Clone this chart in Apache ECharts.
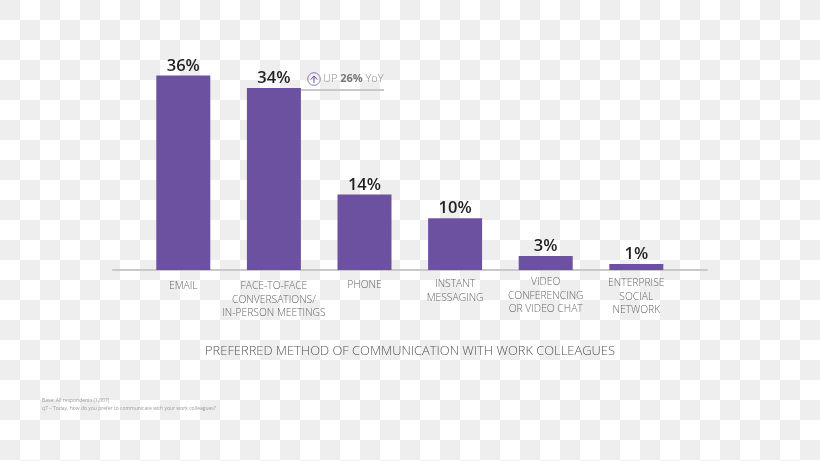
<!DOCTYPE html>
<html>
<head>
<meta charset="utf-8">
<title>Preferred method of communication</title>
<style>
html,body{margin:0;padding:0;width:820px;height:461px;overflow:hidden;}
body{background:repeating-conic-gradient(#fff 0 25%,#eeeeee 0 50%) 0 0/40px 40px;}
#chart{width:820px;height:461px;}
</style>
<script src="https://cdn.jsdelivr.net/npm/echarts@6/dist/echarts.min.js"></script>
</head>
<body>
<div id="chart"></div>
<script>
var categories = [
	'EMAIL',
	'FACE-TO-FACE\nCONVERSATIONS/\nIN-PERSON MEETINGS',
	'PHONE',
	'INSTANT\nMESSAGING',
	'VIDEO\nCONFERENCING\nOR VIDEO CHAT',
	'ENTERPRISE\nSOCIAL\nNETWORK'
];
// bar heights, they differ a little from the printed labels
var barValues = [36, 33.7, 14, 9.6, 2.6, 1.1];
var barLabels = ['36%', '34%', '14%', '10%', '3%', '1%'];
var chartTitle = 'PREFERRED METHOD OF COMMUNICATION WITH WORK COLLEAGUES';
var footnotes = [
	'Base: All respondents (1,007)',
	'q7 \u2013 Today, how do you prefer to communicate with your work colleagues?'
];

var font = '"Open Sans"';
var purple = '#6c51a0';
var lineGray = '#c9c9c9';

// the labels do not sit on one line in the original, each one gets its own offset
var labelStyle = ['d4', 'd4', 'd3', 'd2', 'd0', 'd1'];

function axisLabelText(value, index){
	var lines = value.split('\n');
	for(var i=0;i<lines.length;i++){
		lines[i] = '{' + labelStyle[index] + '|' + lines[i] + '}';
	}
	return lines.join('\n');
}

function lineStyleOf(top){
	return {padding:[top*2,0,0,0], fontFamily:font, fontWeight:300, fontSize:10.3, color:'#666666', lineHeight:13.8};
}

var myChart = echarts.init(document.getElementById('chart'), null, {renderer:'canvas'});

var option = {
	backgroundColor:'transparent',
	animation:false,
	title:{
		text:chartTitle,
		left:'center',
		top:340,
		textStyle:{fontFamily:font, fontWeight:300, fontSize:12.9, color:'#555555'}
	},
	grid:[
		{left:138, width:543.6, top:54, bottom:191},
		{left:113, width:594, top:54, bottom:191}
	],
	xAxis:[
		{
			type:'category',
			gridIndex:0,
			data:categories,
			axisLine:{show:false},
			axisTick:{show:false},
			axisLabel:{
				interval:0,
				margin:5,
				formatter:axisLabelText,
				rich:{
					d0:lineStyleOf(0),
					d1:lineStyleOf(1),
					d2:lineStyleOf(2),
					d3:lineStyleOf(3),
					d4:lineStyleOf(4)
				}
			}
		},
		{
			type:'value',
			gridIndex:1,
			min:0,
			max:1,
			axisLine:{show:true, onZero:false, lineStyle:{color:lineGray, width:2}},
			axisTick:{show:false},
			axisLabel:{show:false},
			splitLine:{show:false}
		}
	],
	yAxis:[
		{type:'value', gridIndex:0, min:0, max:40, show:false},
		{type:'value', gridIndex:1, min:0, max:40, show:false}
	],
	series:[{
		type:'bar',
		xAxisIndex:0,
		yAxisIndex:0,
		data:barValues,
		barWidth:54,
		itemStyle:{color:purple},
		z:5,
		label:{
			show:true,
			position:'top',
			distance:1,
			formatter:function(p){ return barLabels[p.dataIndex]; },
			fontFamily:font,
			fontWeight:600,
			fontSize:16.5,
			color:'#1f1f1f'
		}
	}],
	graphic:[
		// YoY note next to the second bar
		{type:'line', shape:{x1:301, y1:90, x2:384, y2:90}, style:{stroke:lineGray, lineWidth:2}},
		{type:'circle', shape:{cx:314, cy:79, r:6.3}, style:{fill:'none', stroke:'#8a78b4', lineWidth:1}},
		{type:'polyline', shape:{points:[[310.8,79.5],[314,76],[317.2,79.5]]}, style:{fill:'none', stroke:'#6c51a0', lineWidth:1}},
		{type:'line', shape:{x1:314, y1:76, x2:314, y2:83}, style:{stroke:'#6c51a0', lineWidth:1}},
		{
			type:'text',
			x:323,
			y:79,
			style:{
				text:'{a|UP }{b|26%}{a| YoY}',
				verticalAlign:'middle',
				rich:{
					a:{fontFamily:font, fontWeight:300, fontSize:11, fill:'#8a8a8a'},
					b:{fontFamily:font, fontWeight:700, fontSize:11, fill:'#777777'}
				}
			}
		},
		{
			type:'text',
			x:42,
			y:397,
			style:{
				text:footnotes.join('\n'),
				fontFamily:font,
				fontSize:5,
				lineHeight:8,
				fill:'#9a9a9a'
			}
		}
	]
};

myChart.setOption(option);
</script>
</body>
</html>
